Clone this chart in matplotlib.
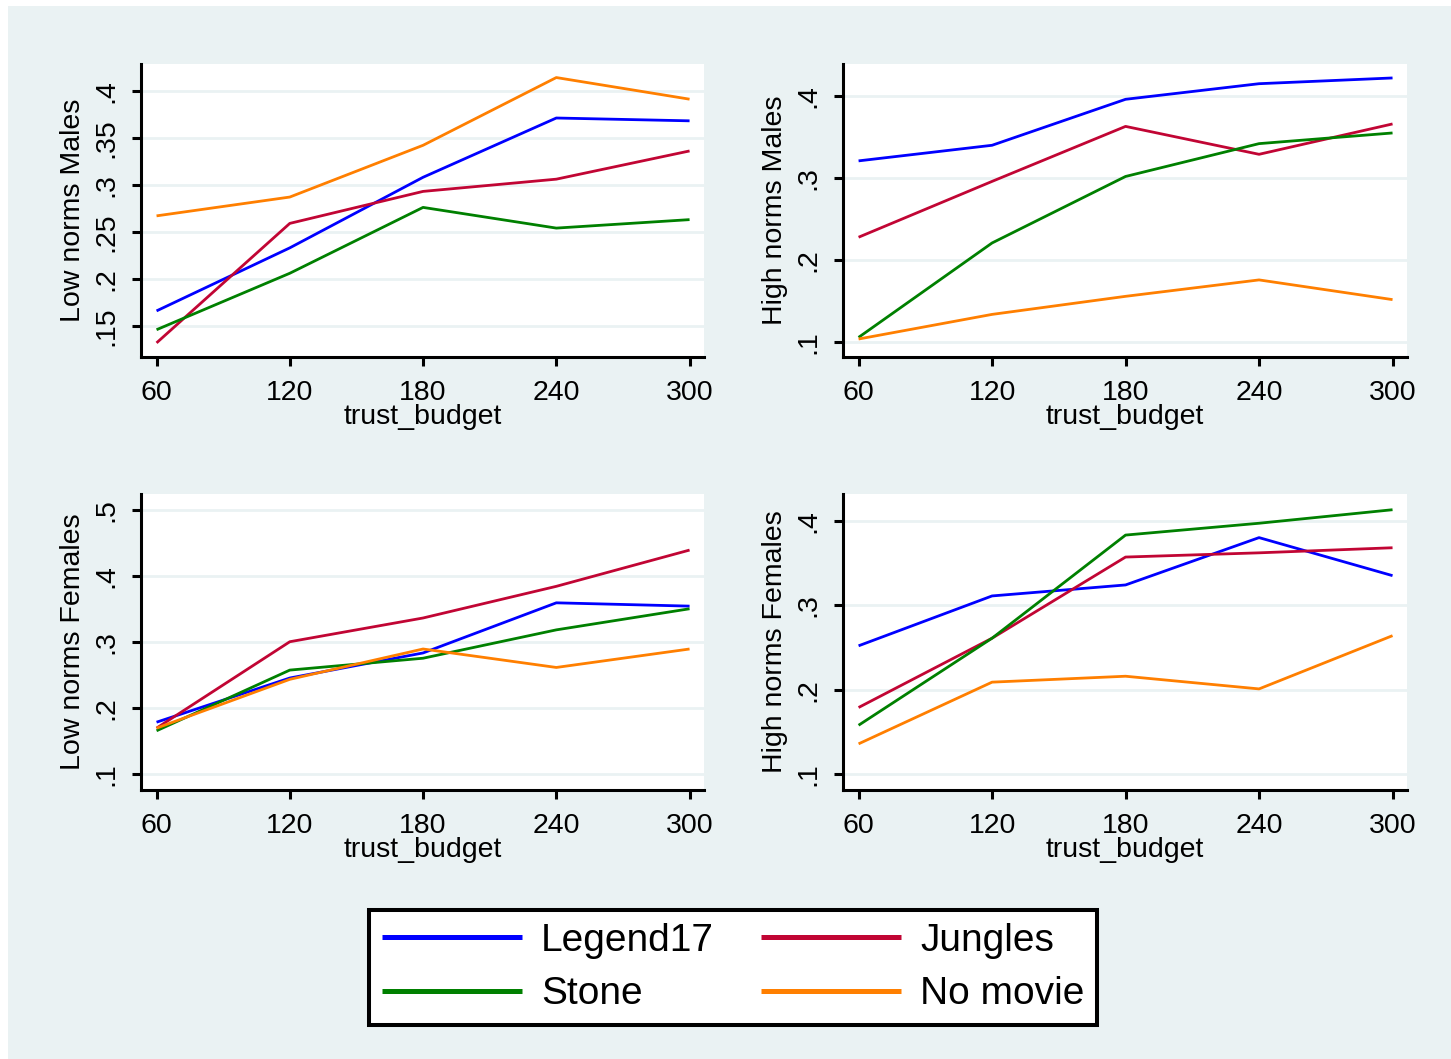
import matplotlib
matplotlib.use("Agg")
import matplotlib.pyplot as plt
from matplotlib.patches import Rectangle

plt.rcParams['font.family'] = ['Liberation Sans', 'DejaVu Sans']

budget = [60, 120, 180, 240, 300]
movies = ["Legend17", "Jungles", "Stone", "No movie"]
colors = ["#0000ff", "#c10534", "#008000", "#ff7f00"]

low_males = [
    [.166, .233, .308, .371, .368],
    [.132, .259, .293, .306, .336],
    [.146, .206, .276, .254, .263],
    [.267, .287, .342, .414, .391],
]
high_males = [
    [.321, .340, .396, .415, .422],
    [.228, .296, .363, .329, .366],
    [.106, .221, .302, .342, .355],
    [.104, .134, .156, .176, .152],
]
low_females = [
    [.179, .246, .284, .360, .355],
    [.170, .301, .337, .385, .440],
    [.166, .258, .276, .319, .351],
    [.170, .244, .290, .262, .290],
]
high_females = [
    [.252, .311, .324, .380, .335],
    [.179, .261, .357, .362, .368],
    [.158, .261, .383, .397, .413],
    [.136, .209, .216, .201, .264],
]

yticks_low_males = [.15, .2, .25, .3, .35, .4]
yticks_high = [.1, .2, .3, .4]
yticks_low_females = [.1, .2, .3, .4, .5]

BG = "#eaf2f3"
W, H = 1451, 1059

fig = plt.figure(figsize=(W / 100, H / 100), dpi=100)
fig.patch.set_facecolor("white")
fig.patches.append(Rectangle((8 / W, 0), 1, 1 - 6 / H, transform=fig.transFigure,
                             facecolor=BG, edgecolor="none", zorder=-10))


def stata_label(v):
    s = ("%g" % v)
    return s[1:] if s.startswith("0.") else s


panels = [
    (low_males, "Low norms Males", yticks_low_males, (.117, .4284), (141, 64, 704, 357)),
    (high_males, "High norms Males", yticks_high, (.0821, .439), (843, 64, 1407, 357)),
    (low_females, "Low norms Females", yticks_low_females, (.0762, .525), (141, 494, 704, 790)),
    (high_females, "High norms Females", yticks_high, (.0814, .4316), (843, 494, 1407, 790)),
]

fs = 20.5
for series, ylabel, yt, ylim, (x0, y0, x1, y1) in panels:
    ax = fig.add_axes([x0 / W, 1 - y1 / H, (x1 - x0) / W, (y1 - y0) / H])
    ax.set_facecolor("white")
    for vals, c, name in zip(series, colors, movies):
        ax.plot(budget, vals, color=c, lw=2.0, label=name, solid_capstyle="butt")
    ax.set_xlim(53, 306.5)
    ax.set_ylim(*ylim)
    ax.set_xticks(budget)
    ax.set_xticklabels([str(b) for b in budget], fontsize=fs)
    ax.set_yticks(yt)
    ax.set_yticklabels([stata_label(v) for v in yt], fontsize=fs, rotation=90, va="center")
    ax.grid(axis="y", color=BG, lw=2.0)
    ax.set_axisbelow(True)
    for s in ["top", "right"]:
        ax.spines[s].set_visible(False)
    for s in ["left", "bottom"]:
        ax.spines[s].set_linewidth(2.2)
    ax.tick_params(axis="both", length=6.5, width=2.2, direction="out")
    ax.tick_params(axis="x", pad=10)
    ax.tick_params(axis="y", pad=9)
    ax.set_xlabel("trust_budget", fontsize=fs, labelpad=-1.5)
    ax.set_ylabel(ylabel, fontsize=fs, labelpad=5.5)

handles, labels = ax.get_legend_handles_labels()
# two rows: Legend17 / Jungles on top, Stone / No movie below
order = [0, 2, 1, 3]
leg = fig.legend([handles[i] for i in order], [labels[i] for i in order], ncol=2,
                 loc="center", bbox_to_anchor=(733 / W, 1 - 967.5 / H),
                 fontsize=28, frameon=True, fancybox=False, edgecolor="black",
                 facecolor="white", framealpha=1,
                 handlelength=3.6, handletextpad=0.5, columnspacing=1.2,
                 labelspacing=0.45, borderpad=0.32)
leg.get_frame().set_linewidth(2.9)
for line in leg.get_lines():
    line.set_linewidth(3.6)

fig.savefig("out.png", dpi=100, facecolor=fig.get_facecolor())
